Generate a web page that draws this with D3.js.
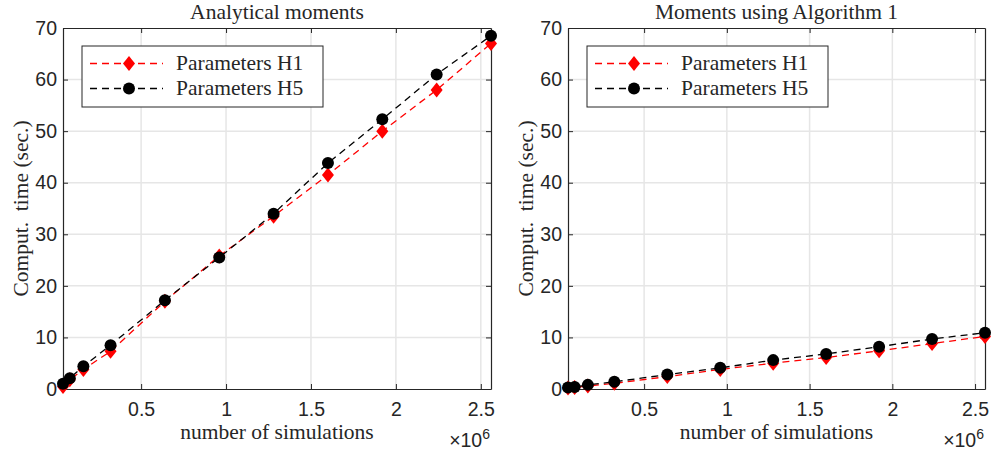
<!DOCTYPE html>
<html>
<head>
<meta charset="utf-8">
<script src="https://cdn.jsdelivr.net/npm/d3@7"></script>
<style>
  body { margin: 0; background: #fff; }
  svg text { fill: #262626; }
  .serif { font-family: "Liberation Serif", "Times New Roman", serif; }
  .tick-lbl { font-family: "Liberation Sans", Arial, sans-serif; }
</style>
</head>
<body>
<div id="chart"></div>
<script>
// number of simulations (x) shared by both panels
var nSims = [40000, 80000, 160000, 320000, 640000, 960000, 1280000, 1600000, 1920000, 2240000, 2560000];

// computation time (sec.) - analytical moments
var analyticH1 = [0.5, 1.8, 3.8, 7.3, 17.0, 25.8, 33.5, 41.5, 50.0, 58.0, 67.0];
var analyticH5 = [1.0, 2.1, 4.4, 8.5, 17.2, 25.5, 34.0, 43.8, 52.3, 61.0, 68.5];

// computation time (sec.) - moments using Algorithm 1
var algoH1 = [0.2, 0.3, 0.6, 1.1, 2.4, 3.8, 5.0, 6.1, 7.4, 8.8, 10.2];
var algoH5 = [0.3, 0.4, 0.8, 1.4, 2.8, 4.1, 5.6, 6.8, 8.2, 9.7, 10.9];

var xTicks = [500000, 1000000, 1500000, 2000000, 2500000];
var xTickLabels = ["0.5", "1", "1.5", "2", "2.5"];
var yTicks = [0, 10, 20, 30, 40, 50, 60, 70];
var seriesNames = ["Parameters H1", "Parameters H5"];
var panelTitles = ["Analytical moments", "Moments using Algorithm 1"];

var svgWidth = 992, svgHeight = 455;

var svg = d3.select("#chart")
  .append("svg")
  .attr("width", svgWidth)
  .attr("height", svgHeight);

// panel boxes in pixels
var panels = [
  { left: 63, right: 491, top: 28, bottom: 389, title: panelTitles[0], h1: analyticH1, h5: analyticH5 },
  { left: 568, right: 985, top: 28, bottom: 389, title: panelTitles[1], h1: algoH1, h5: algoH5 }
];

var axisColor = "#262626";
var gridColor = "#e6e6e6";
var tickLen = 5;
var serifSize = "21.5px";
var tickSize = "19.5px";

// diamond path, a bit taller than wide (like matlab 'd')
function diamond(cx, cy) {
  var hw = 6, hh = 7.5;
  return "M" + cx + "," + (cy - hh) + "L" + (cx + hw) + "," + cy +
         "L" + cx + "," + (cy + hh) + "L" + (cx - hw) + "," + cy + "Z";
}

panels.forEach(function(p) {
  var x = d3.scaleLinear()
    .domain([d3.min(nSims), d3.max(nSims)])
    .range([p.left, p.right]);
  var y = d3.scaleLinear()
    .domain([0, 70])
    .range([p.bottom, p.top]);

  var g = svg.append("g");

  // grid lines
  g.selectAll(".gx").data(xTicks).enter().append("line")
    .attr("x1", d => x(d)).attr("x2", d => x(d))
    .attr("y1", p.top).attr("y2", p.bottom)
    .attr("stroke", gridColor).attr("stroke-width", 1.5);
  g.selectAll(".gy").data(yTicks.slice(1, -1)).enter().append("line")
    .attr("x1", p.left).attr("x2", p.right)
    .attr("y1", d => y(d)).attr("y2", d => y(d))
    .attr("stroke", gridColor).attr("stroke-width", 1.5);

  // axes with inward ticks (bottom + left), mirrored ticks on top + right
  var bottomAxis = d3.axisBottom(x).tickValues(xTicks)
    .tickFormat((d, i) => xTickLabels[i]).tickSizeInner(-tickLen).tickSizeOuter(0).tickPadding(13);
  var leftAxis = d3.axisLeft(y).tickValues(yTicks)
    .tickSizeInner(-tickLen).tickSizeOuter(0).tickPadding(6);
  var topAxis = d3.axisTop(x).tickValues(xTicks).tickFormat("").tickSizeInner(-tickLen).tickSizeOuter(0);
  var rightAxis = d3.axisRight(y).tickValues(yTicks).tickFormat("").tickSizeInner(-tickLen).tickSizeOuter(0);

  var axes = [
    g.append("g").attr("transform", `translate(0, ${p.bottom})`).call(bottomAxis),
    g.append("g").attr("transform", `translate(${p.left}, 0)`).call(leftAxis),
    g.append("g").attr("transform", `translate(0, ${p.top})`).call(topAxis),
    g.append("g").attr("transform", `translate(${p.right}, 0)`).call(rightAxis)
  ];
  axes.forEach(function(a) {
    a.select(".domain").attr("stroke", axisColor).attr("stroke-width", 1.2);
    a.selectAll(".tick line").attr("stroke", axisColor).attr("stroke-width", 1);
    a.selectAll(".tick text")
      .attr("class", "tick-lbl")
      .style("font-size", tickSize)
      .attr("fill", axisColor);
  });

  // the x10^6 exponent label
  var expo = g.append("text")
    .attr("class", "tick-lbl")
    .attr("x", p.right - 1)
    .attr("y", 447)
    .attr("text-anchor", "end")
    .style("font-size", tickSize);
  expo.append("tspan").text("\u00d710");
  expo.append("tspan").attr("dy", -8).style("font-size", "14px").text("6");

  // series: red H1 first, black H5 on top
  var line = d3.line().x((d, i) => x(nSims[i])).y(d => y(d));

  g.append("path").datum(p.h1)
    .attr("d", line).attr("fill", "none")
    .attr("stroke", "#ff0000").attr("stroke-width", 1.3)
    .attr("stroke-dasharray", "7,5");
  g.selectAll(".m1").data(p.h1).enter().append("path")
    .attr("d", (d, i) => diamond(x(nSims[i]), y(d)))
    .attr("fill", "#ff0000");

  g.append("path").datum(p.h5)
    .attr("d", line).attr("fill", "none")
    .attr("stroke", "#000").attr("stroke-width", 1.3)
    .attr("stroke-dasharray", "7,5");
  g.selectAll(".m5").data(p.h5).enter().append("circle")
    .attr("cx", (d, i) => x(nSims[i]))
    .attr("cy", d => y(d))
    .attr("r", 6)
    .attr("fill", "#000");

  // title and labels
  g.append("text")
    .attr("class", "serif")
    .attr("x", (p.left + p.right) / 2)
    .attr("y", 19)
    .attr("text-anchor", "middle")
    .style("font-size", serifSize)
    .attr("fill", "#000")
    .text(p.title);

  g.append("text")
    .attr("class", "serif")
    .attr("x", (p.left + p.right) / 2)
    .attr("y", 439)
    .attr("text-anchor", "middle")
    .style("font-size", serifSize)
    .text("number of simulations");

  g.append("text")
    .attr("class", "serif")
    .attr("transform", `translate(${p.left - 35}, ${(p.top + p.bottom) / 2}) rotate(-90)`)
    .attr("text-anchor", "middle")
    .style("font-size", serifSize)
    .style("white-space", "pre")
    .text("Comput.  time (sec.)");

  // legend
  var lg = g.append("g").attr("transform", `translate(${p.left + 19}, 46)`);
  lg.append("rect")
    .attr("width", 241).attr("height", 61)
    .attr("fill", "#fff").attr("stroke", axisColor).attr("stroke-width", 1);
  var legendColors = ["#ff0000", "#000"];
  seriesNames.forEach(function(name, i) {
    var ly = 17.5 + i * 25;
    lg.append("line")
      .attr("x1", 8).attr("x2", 81).attr("y1", ly).attr("y2", ly)
      .attr("stroke", legendColors[i]).attr("stroke-width", 1.3)
      .attr("stroke-dasharray", "7,5");
    if (i === 0) {
      lg.append("path").attr("d", diamond(47, ly)).attr("fill", legendColors[i]);
    } else {
      lg.append("circle").attr("cx", 47).attr("cy", ly).attr("r", 6).attr("fill", legendColors[i]);
    }
    lg.append("text")
      .attr("class", "serif")
      .attr("x", 94)
      .attr("y", ly + 6)
      .style("font-size", serifSize)
      .text(name);
  });
});
</script>
</body>
</html>
